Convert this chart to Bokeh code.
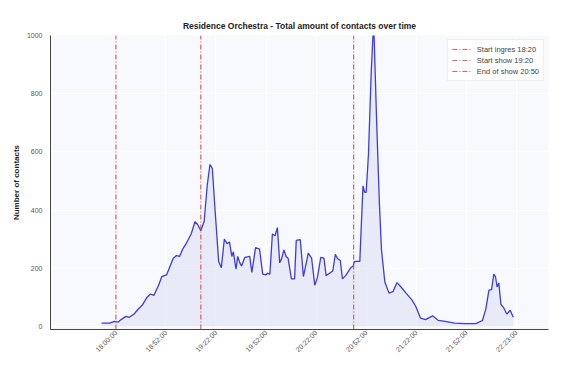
import math
from bokeh.plotting import figure
from bokeh.models import Range1d, FixedTicker
from bokeh.embed import file_html
from bokeh.resources import INLINE

# time axis in minutes relative to the first tick
minutes = [-8.6, -3.7, -0.8, 1.2, 3.1, 6.0, 8.0, 10.9, 12.9, 15.8, 18.7, 20.7, 22.7, 25.6, 27.5,
           30.4, 34.4, 36.3, 38.2, 40.2, 42.1, 43.1, 45.1, 47.4, 49.0, 50.9, 52.9, 54.8, 56.4,
           57.8, 59.7, 61.6, 63.2, 65.0, 66.6, 68.1, 69.5, 70.4, 72.0, 73.0, 74.3, 75.3, 77.3,
           80.2, 81.5, 83.7, 86.1, 88.0, 90.0, 90.9, 92.3, 93.8, 95.4, 96.8, 98.2, 99.3, 100.7,
           102.0, 103.2, 105.2, 107.1, 108.1, 110.5, 112.4, 115.3, 117.3, 119.2, 120.8, 122.8,
           124.7, 126.0, 128.0, 130.0, 131.5, 132.9, 134.5, 135.8, 137.7, 140.7, 142.2, 143.0,
           146.2, 148.1, 149.1, 150.0, 151.4, 153.0, 154.5, 156.3, 157.9, 159.2, 161.2, 163.7,
           166.1, 168.4, 170.9, 173.9, 177.4, 179.7, 182.6, 185.6, 189.8, 193.3, 197.3, 203.1,
           209.0, 215.8, 219.7, 221.7, 223.6, 225.2, 226.5, 227.5, 228.5, 229.5, 230.8, 232.4,
           234.3, 236.3, 238.2]
contacts = [12, 12, 18, 15, 24, 35, 32, 43, 57, 74, 101, 112, 107, 142, 172,
            178, 235, 244, 241, 268, 285, 296, 318, 360, 351, 329, 362, 488, 557,
            543, 379, 224, 202, 301, 285, 290, 241, 257, 197, 241, 219, 208, 238,
            241, 186, 271, 266, 180, 178, 183, 180, 318, 312, 340, 219, 233, 263,
            241, 235, 164, 164, 296, 299, 172, 252, 235, 142, 169, 238,
            235, 175, 183, 191, 248, 233, 227, 164, 175, 202, 208, 224,
            224, 483, 461, 461, 593, 868, 1050, 703, 428, 263, 153, 115,
            120, 151, 136, 115, 92, 70, 29, 24, 37, 21, 18, 12,
            10, 10, 21, 59, 125, 127, 180, 172, 136, 150, 76, 65,
            43, 56, 32]

tick_positions = [0, 30, 60, 90, 120, 150, 180, 210, 240]
tick_labels = ["18:00:00", "18:52:00", "19:22:00", "19:52:00", "20:22:00",
               "20:52:00", "21:22:00", "21:52:00", "22:23:00"]
y_ticks = [0, 200, 400, 600, 800, 1000]

event_positions = [0.0, 50.9, 142.5]
event_labels = ["Start ingres 18:20", "Start show 19:20", "End of show 20:50"]

y_lo, y_hi = -10, 1000

p = figure(width=550, height=358, output_backend="svg", toolbar_location=None,
           x_range=Range1d(-39.2, 259.3), y_range=Range1d(y_lo, y_hi),
           title="Residence Orchestra - Total amount of contacts over time",
           min_border_left=50, min_border_top=35, min_border_right=2, min_border_bottom=10)

p.background_fill_color = "#f8f9fc"
p.border_fill_color = "white"
p.outline_line_color = None

p.title.align = "center"
p.title.text_font = "Liberation Sans"
p.title.text_font_size = "8.5px"
p.title.text_font_style = "bold"
p.title.text_color = "#222222"

p.varea(x=minutes, y1=0, y2=contacts, fill_color="#d4d8f4", fill_alpha=0.45)
p.line(minutes, contacts, line_color="#3c3ce0", line_width=1.3)

for pos, lab in zip(event_positions, event_labels):
    p.segment(x0=pos, x1=pos, y0=y_lo, y1=y_hi, line_color="#d04848", line_alpha=0.85,
              line_width=1.2, line_dash="5 2 1 2", legend_label=lab)

p.xaxis.ticker = FixedTicker(ticks=tick_positions)
p.xaxis.major_label_overrides = {t: l for t, l in zip(tick_positions, tick_labels)}
p.xaxis.major_label_orientation = math.pi / 4
p.xaxis.major_label_standoff = 2
p.yaxis.ticker = FixedTicker(ticks=y_ticks)
p.yaxis.major_label_standoff = 8
p.yaxis.axis_label = "Number of contacts"
p.yaxis.axis_label_text_font = "Liberation Sans"
p.yaxis.axis_label_text_font_size = "8px"
p.yaxis.axis_label_text_font_style = "bold"
p.yaxis.axis_label_text_color = "#222222"
p.yaxis.axis_label_standoff = 3

for ax in (p.xaxis, p.yaxis):
    ax.major_label_text_font = "Liberation Sans"
    ax.major_label_text_font_size = "7px"
    ax.major_label_text_color = "#555555"
    ax.major_tick_line_color = None
    ax.minor_tick_line_color = None
    ax.major_tick_out = 0
    ax.major_tick_in = 0
    ax.minor_tick_out = 0
    ax.minor_tick_in = 0
    ax.axis_line_color = "#444444"
    ax.axis_line_width = 1

p.xgrid.grid_line_color = "white"
p.ygrid.grid_line_color = "white"
p.xgrid.grid_line_width = 1
p.ygrid.grid_line_width = 1

p.legend.location = "top_right"
p.legend.label_text_font = "Liberation Sans"
p.legend.label_text_font_size = "7.5px"
p.legend.label_text_color = "#444444"
p.legend.glyph_width = 20
p.legend.glyph_height = 10
p.legend.label_height = 10
p.legend.spacing = 1
p.legend.padding = 4
p.legend.margin = 4
p.legend.border_line_color = "#dddddd"
p.legend.background_fill_color = "white"
p.legend.background_fill_alpha = 0.9

open("out.html", "w").write(file_html(p, INLINE))
